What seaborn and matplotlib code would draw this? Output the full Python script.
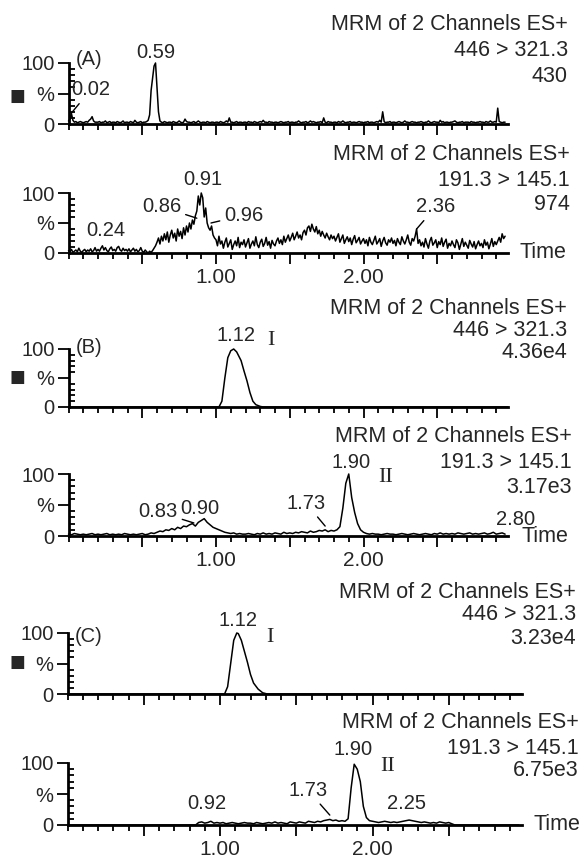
import numpy as np
import matplotlib
matplotlib.use('Agg')
import matplotlib.pyplot as plt
import seaborn as sns
from matplotlib.ticker import MultipleLocator, FixedLocator

sns.set_theme(style='ticks')
plt.rcParams['font.family'] = ['Liberation Sans', 'DejaVu Sans']

W, H = 587, 858

# scan times (min)
t01 = np.round(np.arange(0, 2.965, 0.01), 2)
t02 = np.round(np.arange(0, 2.97, 0.02), 2)

# (A) 446 > 321.3, 430  -- 0.01 min scans
a1 = [5, 8, 17, 6, 3, 4, 2, 3, 4, 3, 2, 3, 4, 3, 6, 8, 12, 5, 3, 3,
      3, 4, 2, 3, 3, 5, 2, 3, 4, 2, 3, 3, 2, 4, 3, 2, 3, 5, 2, 3,
      3, 2, 4, 3, 2, 6, 3, 2, 3, 4, 2, 3, 3, 4, 6, 15, 55, 75, 95, 100,
      60, 20, 5, 3, 2, 4, 3, 2, 3, 3, 2, 4, 3, 2, 3, 5, 3, 2, 3, 8,
      4, 3, 3, 2, 3, 4, 2, 3, 5, 3, 2, 3, 3, 2, 4, 3, 2, 3, 3, 2,
      3, 3, 2, 4, 3, 2, 3, 5, 3, 10, 3, 3, 2, 3, 4, 2, 3, 3, 2, 3,
      3, 2, 4, 3, 3, 2, 4, 3, 2, 3, 4, 3, 6, 3, 3, 2, 4, 3, 3, 2,
      3, 3, 2, 3, 4, 3, 2, 3, 3, 4, 2, 3, 3, 2, 3, 3, 5, 3, 2, 3,
      3, 4, 2, 3, 5, 3, 4, 3, 2, 3, 3, 4, 2, 10, 3, 2, 4, 3, 3, 2,
      3, 3, 2, 4, 3, 3, 5, 3, 2, 3, 3, 4, 2, 3, 3, 2, 3, 4, 3, 3,
      2, 3, 3, 4, 2, 3, 3, 2, 3, 4, 3, 6, 3, 20, 4, 2, 3, 3, 4, 2,
      3, 3, 2, 3, 4, 3, 2, 3, 5, 3, 3, 2, 3, 4, 3, 3, 2, 3, 3, 4,
      3, 2, 3, 3, 5, 3, 2, 3, 4, 3, 3, 2, 6, 3, 4, 2, 3, 3, 2, 3,
      3, 4, 5, 3, 2, 3, 3, 4, 2, 3, 3, 3, 2, 4, 3, 3, 2, 3, 3, 4,
      3, 3, 2, 4, 3, 3, 5, 3, 3, 4, 3, 26, 4, 3, 2, 3, 3]

# (A) 191.3 > 145.1, 974  -- 0.01 min scans
a2 = [4, 2, 6, 1, 3, 5, 2, 8, 3, 1, 4, 6, 2, 5, 3, 7, 2, 4, 9, 3,
      6, 3, 8, 12, 5, 9, 4, 2, 7, 10, 4, 6, 3, 9, 11, 5, 3, 8, 4, 6,
      3, 7, 2, 5, 8, 3, 6, 2, 4, 9, 3, 1, 5, 2, 0, 3, 1, 4, 8, 12,
      18, 25, 15, 28, 20, 32, 22, 35, 18, 30, 38, 25, 33, 20, 40, 28, 36, 24, 42, 30,
      45, 35, 50, 40, 55, 48, 62, 70, 95, 80, 100, 92, 60, 75, 50, 42, 38, 45, 30, 25,
      22, 12, 28, 15, 20, 8, 18, 25, 10, 16, 22, 6, 14, 20, 12, 26, 9, 18, 14, 22,
      10, 17, 24, 8, 15, 20, 12, 27, 14, 9, 18, 23, 11, 16, 26, 13, 19, 8, 21, 15,
      12, 20, 25, 16, 22, 14, 28, 18, 24, 30, 20, 26, 33, 22, 28, 35, 25, 30, 22, 34,
      38, 30, 42, 45, 36, 48, 40, 35, 44, 32, 38, 28, 36, 30, 25, 33, 27, 22, 30, 24,
      28, 20, 26, 32, 18, 24, 30, 16, 22, 27, 19, 25, 14, 23, 29, 17, 21, 26, 15, 20,
      24, 16, 22, 12, 26, 18, 14, 21, 28, 15, 19, 24, 11, 20, 26, 17, 13, 22, 18, 25,
      16, 21, 12, 24, 18, 14, 27, 20, 15, 22, 30, 18, 13, 24, 20, 28, 40, 16, 22, 12,
      18, 10, 24, 15, 8, 20, 26, 13, 17, 22, 9, 19, 14, 25, 11, 18, 23, 8, 16, 12,
      20, 14, 9, 22, 17, 6, 15, 24, 11, 18, 13, 8, 21, 15, 10, 19, 7, 14, 20, 12,
      16, 9, 22, 13, 18, 7, 15, 24, 11, 19, 14, 20, 26, 18, 32, 24, 28]

# (B) 446 > 321.3, 4.36e4
b1_t = [0.00, 1.02, 1.04, 1.06, 1.08, 1.10, 1.12, 1.14, 1.17, 1.19, 1.21, 1.23, 1.25, 1.27, 1.30, 1.32, 2.98]
b1_v = [0, 0, 10, 50, 85, 97, 100, 95, 80, 62, 45, 25, 10, 4, 1, 0, 0]

# (B) 191.3 > 145.1, 3.17e3  -- 0.02 min scans
b2 = [3, 2, 4, 3, 2, 3, 2, 3, 4, 2,
      3, 2, 3, 4, 2, 3, 2, 3, 2, 4,
      3, 2, 3, 2, 3, 4, 2, 3, 5, 4,
      6, 8, 7, 10, 9, 12, 10, 14, 12, 16,
      15, 18, 20, 16, 22, 25, 28, 22, 18, 14,
      12, 10, 8, 6, 5, 4, 5, 3, 4, 3,
      3, 4, 3, 2, 4, 3, 5, 3, 4, 3,
      5, 4, 3, 6, 4, 5, 4, 6, 5, 7,
      6, 5, 8, 6, 7, 9, 8, 10, 7, 9,
      8, 10, 15, 45, 85, 100, 62, 38, 20, 10,
      6, 4, 3, 4, 3, 3, 2, 3, 4, 3,
      3, 2, 3, 4, 3, 2, 3, 4, 3, 2,
      3, 4, 3, 2, 4, 3, 5, 3, 4, 3,
      4, 3, 5, 4, 3, 4, 5, 3, 4, 3,
      4, 5, 3, 4, 6, 3, 4, 5, 3]

# (C) 446 > 321.3, 3.23e4
c1_t = [0.00, 1.03, 1.05, 1.07, 1.09, 1.11, 1.12, 1.14, 1.16, 1.18, 1.20, 1.22, 1.25, 1.28, 1.31, 2.98]
c1_v = [0, 0, 12, 50, 88, 100, 99, 88, 70, 52, 32, 18, 8, 2, 0, 0]

# (C) 191.3 > 145.1, 6.75e3  -- 0.02 min scans
c2 = [0, 0, 0, 0, 0, 0, 0, 0, 0, 0,
      0, 0, 0, 0, 0, 0, 0, 0, 0, 0,
      0, 0, 0, 0, 0, 0, 0, 0, 0, 0,
      0, 0, 0, 0, 0, 0, 0, 0, 0, 0,
      0, 0, 0, 4, 5, 3, 4, 6, 3, 4,
      3, 4, 2, 3, 4, 3, 2, 3, 4, 3,
      3, 2, 4, 3, 2, 3, 4, 3, 5, 3,
      4, 3, 2, 5, 4, 3, 5, 4, 3, 6,
      5, 4, 6, 5, 7, 8, 9, 7, 8, 6,
      7, 6, 10, 60, 98, 90, 70, 30, 12, 7,
      6, 5, 4, 5, 6, 5, 4, 5, 4, 5,
      6, 7, 8, 7, 6, 5, 4, 5, 4, 3,
      4, 3, 5, 4, 3, 4, 2, 0, 0, 0,
      0, 0, 0, 0, 0, 0, 0, 0, 0, 0,
      0, 0, 0, 0, 0, 0, 0, 0, 0]

traces = [(t01, a1), (t01, a2), (b1_t, b1_v), (t02, b2), (c1_t, c1_v), (t02, c2)]

headers = [["MRM of 2 Channels ES+", "446 > 321.3", "430"],
           ["MRM of 2 Channels ES+", "191.3 > 145.1", "974"],
           ["MRM of 2 Channels ES+", "446 > 321.3", "4.36e4"],
           ["MRM of 2 Channels ES+", "191.3 > 145.1", "3.17e3"],
           ["MRM of 2 Channels ES+", "446 > 321.3", "3.23e4"],
           ["MRM of 2 Channels ES+", "191.3 > 145.1", "6.75e3"]]

# peak labels: (text, x, y, leader target or None)
peaks = [[("0.02", 0.15, 56, (0.02, 18)), ("0.59", 0.59, 118, None)],
         [("0.24", 0.25, 38, None), ("0.86", 0.63, 77, (0.87, 58)),
          ("0.91", 0.91, 122, None), ("0.96", 1.19, 63, (0.966, 50)),
          ("2.36", 2.49, 77, (2.36, 40))],
         [("1.12", 1.135, 124, None)],
         [("0.83", 0.607, 39, (0.85, 21)), ("0.90", 0.89, 45, None),
          ("1.73", 1.61, 53, (1.74, 16)), ("1.90", 1.915, 118, None),
          ("2.80", 3.03, 27, None)],
         [("1.12", 1.115, 121, None)],
         [("0.92", 0.915, 34, None), ("1.73", 1.577, 56, (1.72, 16)),
          ("1.90", 1.872, 121, None), ("2.25", 2.226, 34, None)]]

panel_tags = {0: ("(A)", 106), 2: ("(B)", 103), 4: ("(C)", 95)}
romans = {2: ("I", 1.37, 115), 3: ("II", 2.15, 95), 4: ("I", 1.325, 93), 5: ("II", 2.10, 94)}

# layout in pixels: left edge (x=0), px per minute, y of 0 %, y of 100 %
layout = [(68.5, 147.5, 124, 63), (68.5, 147.5, 253, 193),
          (68.5, 147.5, 407, 349), (68.5, 147.5, 536, 474),
          (67.5, 152.5, 694, 633), (67.5, 152.5, 825, 763)]
head_pos = [(568, [24, 50, 76]), (570, [155, 180, 204]),
            (567, [308, 330, 352]), (572, [437, 462, 487]),
            (576, [593, 615, 638]), (579, [722, 748, 770])]
square_y = {0: 96, 2: 377, 4: 662}
time_pos = {1: (520, 253), 3: (522, 537), 5: (533, 825)}

XMAX = 2.98
FS = 14.5
FS_HEAD = 15.5

fig = plt.figure(figsize=(W / 100, H / 100), dpi=100)

for i, (tx, ty) in enumerate(traces):
    x0, sc, y0, y1 = layout[i]
    ax = fig.add_axes([x0 / W, 1 - y0 / H, XMAX * sc / W, (y0 - y1) / H])
    sns.lineplot(x=tx, y=ty, ax=ax, color='black', linewidth=1.1,
                 estimator=None, sort=False, clip_on=False)
    ax.set_xlim(0, XMAX)
    ax.set_ylim(0, 100)
    sns.despine(ax=ax)
    for s in ('left', 'bottom'):
        ax.spines[s].set_linewidth(2)
        ax.spines[s].set_color('black')
    ax.xaxis.set_major_locator(FixedLocator([0.5, 1.0, 1.5, 2.0, 2.5]))
    ax.xaxis.set_minor_locator(MultipleLocator(0.1))
    if i % 2 == 1:
        ax.set_xticklabels(['', '1.00', '', '2.00', ''])
    else:
        ax.set_xticklabels([])
    ax.yaxis.set_major_locator(FixedLocator([0, 50, 100]))
    ax.yaxis.set_minor_locator(MultipleLocator(10))
    ax.set_yticklabels(['0', '%', '100'])
    ax.tick_params(axis='x', which='major', direction='out', length=8, width=1.3,
                   labelsize=FS + 0.5, pad=3, color='black')
    ax.tick_params(axis='x', which='minor', direction='out', length=4.5, width=1.3, color='black')
    ax.tick_params(axis='y', which='major', direction='out', length=8, width=1.3,
                   labelsize=FS, pad=2, color='black')
    ax.tick_params(axis='y', which='minor', direction='in', length=4, width=1.3, color='black')
    ax.set_xlabel('')
    ax.set_ylabel('')
    ax.set_facecolor('none')

    for lab, lx, ly, tgt in peaks[i]:
        if tgt is None:
            ax.text(lx, ly, lab, ha='center', va='center', fontsize=FS)
        else:
            ax.annotate(lab, xy=tgt, xytext=(lx, ly), ha='center', va='center',
                        fontsize=FS, annotation_clip=False,
                        arrowprops=dict(arrowstyle='-', color='black', lw=1,
                                        shrinkA=1, shrinkB=0))
    if i in panel_tags:
        tag, ty_ = panel_tags[i]
        ax.text(0.05, ty_, tag, ha='left', va='center', fontsize=FS)
    if i in romans:
        r, rx, ry = romans[i]
        ax.text(rx, ry, r, ha='center', va='center', fontsize=16,
                family='Liberation Serif')

    hx, hys = head_pos[i]
    for line, hy in zip(headers[i], hys):
        fig.text(hx / W, 1 - hy / H, line, ha='right', va='center', fontsize=FS_HEAD)
    if i in square_y:
        fig.text(17.5 / W, 1 - square_y[i] / H, '\u25a0', ha='center', va='center',
                 fontsize=12, family='DejaVu Sans')
    if i in time_pos:
        px, py = time_pos[i]
        fig.text(px / W, 1 - py / H, 'Time', ha='left', va='center', fontsize=FS_HEAD)

fig.savefig('out.png', dpi=100, facecolor='white')
